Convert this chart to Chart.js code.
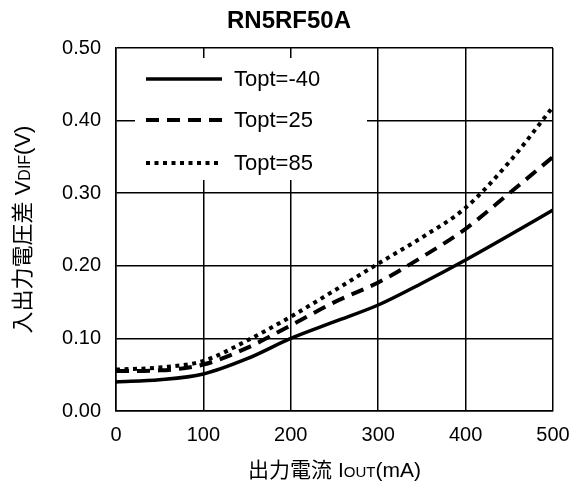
<!DOCTYPE html>
<html>
<head>
<meta charset="utf-8">
<script src="https://cdn.jsdelivr.net/npm/chart.js@4/dist/chart.umd.min.js"></script>
<style>
  html, body { margin: 0; padding: 0; background: #fff; }
  #wrap { width: 583px; height: 486px; }
</style>
</head>
<body>
<div id="wrap"><canvas id="chart" width="583" height="486"></canvas></div>
<script>
const TITLE = "RN5RF50A";
const currentMA = [0, 50, 100, 150, 200, 250, 300, 350, 400, 450, 500];
const vdifM40 = [0.040, 0.043, 0.051, 0.072, 0.100, 0.123, 0.146, 0.176, 0.208, 0.242, 0.277];
const vdif25 = [0.055, 0.056, 0.064, 0.087, 0.118, 0.150, 0.177, 0.212, 0.251, 0.300, 0.350];
const vdif85 = [0.057, 0.060, 0.069, 0.097, 0.130, 0.166, 0.203, 0.239, 0.280, 0.343, 0.419];
const seriesLabels = ["Topt=-40", "Topt=25", "Topt=85"];

const FONT = "'Liberation Sans', Arial, 'Noto Sans CJK JP', sans-serif";

function pts(ys) {
  return currentMA.map((x, i) => ({ x, y: ys[i] }));
}

const styles = [
  { width: 3.5, dash: [] },
  { width: 4, dash: [13, 8] },
  { width: 4, dash: [4, 4.5] },
];

// draws mixed text: [text, sizeFactor] parts, centered at (0,0)
function drawParts(ctx, parts, size) {
  let total = 0;
  const widths = parts.map(([t, f]) => {
    ctx.font = `${Math.round(size * f)}px ${FONT}`;
    const w = ctx.measureText(t).width;
    total += w;
    return w;
  });
  let x = -total / 2;
  ctx.textAlign = "left";
  ctx.textBaseline = "alphabetic";
  parts.forEach(([t, f], i) => {
    ctx.font = `${Math.round(size * f)}px ${FONT}`;
    ctx.fillText(t, x, 8);
    x += widths[i];
  });
}

const decor = {
  id: "decor",
  beforeDatasetsDraw(chart) {
    const ctx = chart.ctx;
    ctx.save();
    // legend box
    ctx.fillStyle = "#fff";
    ctx.fillRect(135, 58, 232, 122);
    const rows = [79, 120, 163];
    rows.forEach((y, i) => {
      ctx.beginPath();
      ctx.strokeStyle = "#000";
      ctx.lineWidth = styles[i].width;
      ctx.setLineDash(styles[i].dash);
      ctx.moveTo(146, y);
      ctx.lineTo(222, y);
      ctx.stroke();
      ctx.setLineDash([]);
      ctx.fillStyle = "#000";
      ctx.font = `22px ${FONT}`;
      ctx.textAlign = "left";
      ctx.textBaseline = "middle";
      ctx.fillText(seriesLabels[i], 234, y + 1);
    });
    ctx.restore();
  },
  afterDraw(chart) {
    const ctx = chart.ctx;
    const a = chart.chartArea;
    ctx.save();
    ctx.fillStyle = "#000";
    // title
    ctx.font = `bold 24px ${FONT}`;
    ctx.textAlign = "center";
    ctx.textBaseline = "middle";
    ctx.fillText(TITLE, 289, 21);
    // x title
    ctx.save();
    ctx.translate((a.left + a.right) / 2, 469);
    drawParts(ctx, [["出力電流 I", 1], ["OUT", 0.72], ["(mA)", 1]], 21);
    ctx.restore();
    // y title
    ctx.save();
    ctx.translate(22, (a.top + a.bottom) / 2);
    ctx.rotate(-Math.PI / 2);
    drawParts(ctx, [["入出力電圧差 V", 1], ["DIF", 0.72], ["(V)", 1]], 22);
    ctx.restore();
    ctx.restore();
  }
};

new Chart(document.getElementById("chart"), {
  type: "line",
  data: {
    datasets: [vdifM40, vdif25, vdif85].map((ys, i) => ({
      label: seriesLabels[i],
      data: pts(ys),
      borderColor: "#000",
      borderWidth: styles[i].width,
      borderDash: styles[i].dash,
      borderCapStyle: "butt",
      pointRadius: 0,
      fill: false,
      cubicInterpolationMode: "monotone",
    }))
  },
  options: {
    responsive: false,
    animation: false,
    layout: { padding: { top: 48, right: 30, left: 0, bottom: 0 } },
    plugins: { legend: { display: false }, title: { display: false }, tooltip: { enabled: false } },
    scales: {
      x: {
        type: "linear",
        min: 0, max: 500,
        ticks: { stepSize: 100, color: "#000", font: { family: FONT, size: 20 }, padding: 12, maxRotation: 0 },
        grid: { color: "#000", lineWidth: 1.5, drawTicks: false },
        border: { display: true, color: "#000", width: 1.5 },
        afterFit(s) { s.height = 75; }
      },
      y: {
        min: 0, max: 0.5,
        ticks: { stepSize: 0.1, color: "#000", font: { family: FONT, size: 20 }, padding: 15,
          callback: v => v.toFixed(2) },
        grid: { color: "#000", lineWidth: 1.5, drawTicks: false },
        border: { display: true, color: "#000", width: 1.5 },
        afterFit(s) { s.width = 116; }
      }
    }
  },
  plugins: [decor]
});
</script>
</body>
</html>
